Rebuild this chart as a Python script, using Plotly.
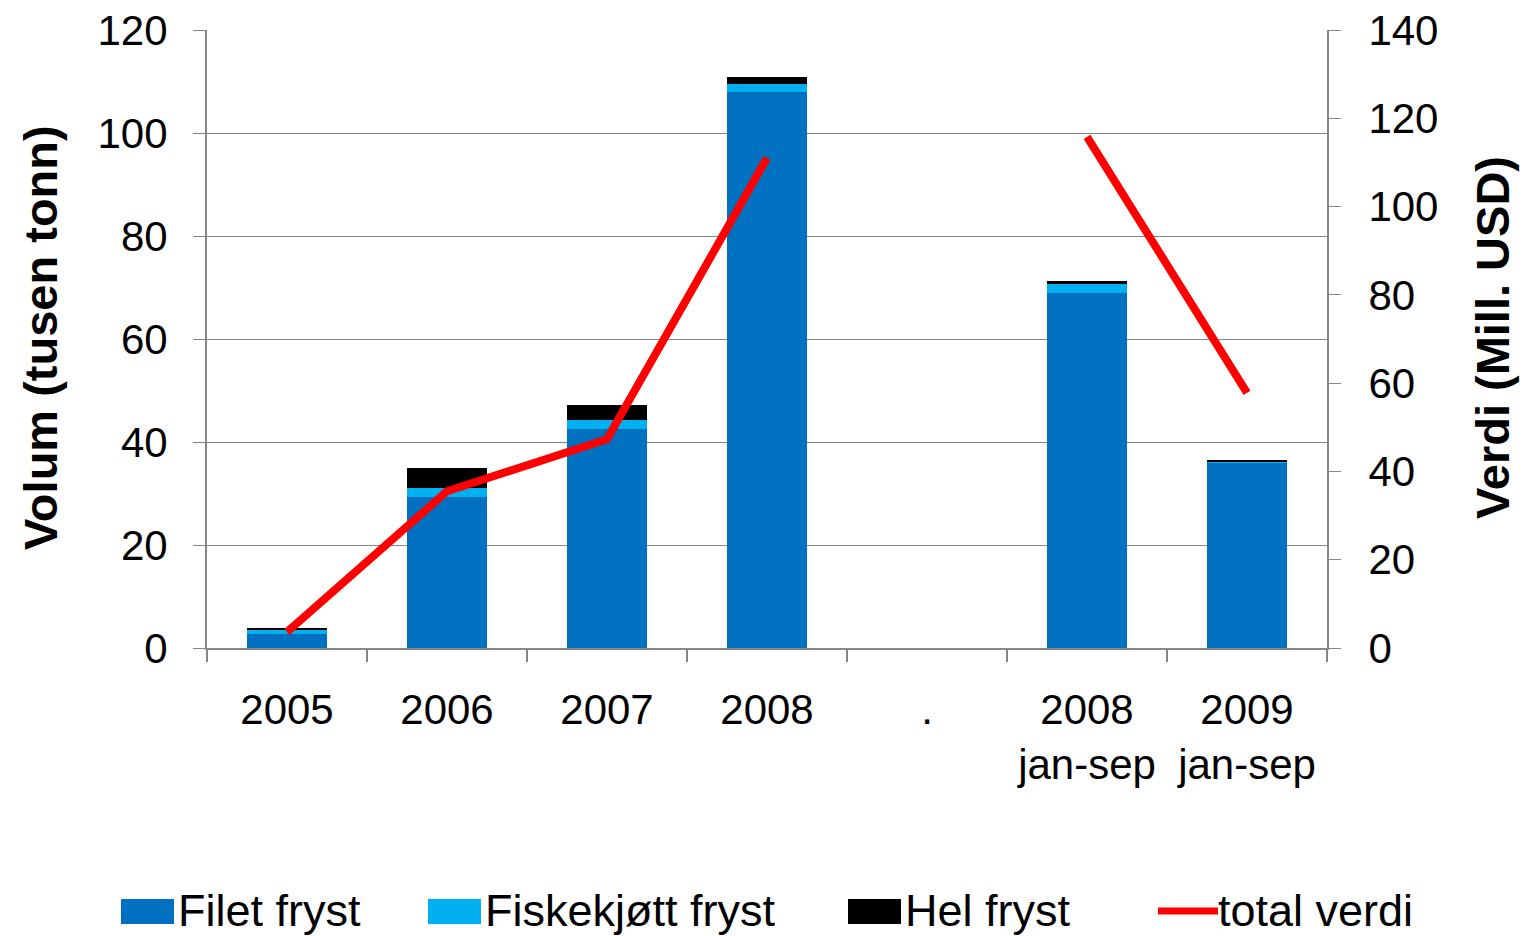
import plotly.graph_objects as go

categories = ["2005", "2006", "2007", "2008", ".", "2008<br>jan-sep", "2009<br>jan-sep"]
filet_fryst = [2.7, 29.3, 42.5, 108.0, None, 69.0, 36.1]
fiskekjott_fryst = [0.8, 1.7, 1.8, 1.6, None, 1.6, 0.2]
hel_fryst = [0.4, 3.9, 2.9, 1.2, None, 0.6, 0.2]
total_verdi = [3.6, 35.5, 47.3, 111.0, None, 115.8, 57.8]

series_names = ["Filet fryst", "Fiskekjøtt fryst", "Hel fryst", "total verdi"]
series_colors = ["#0070C0", "#00B0F0", "#000000", "#FF0000"]
axis_titles = ["Volum (tusen tonn)", "Verdi (Mill. USD)"]

FONT = "Liberation Sans, Arial, sans-serif"
AXIS = "#868686"

fig = go.Figure()
for vals, name, col in zip([filet_fryst, fiskekjott_fryst, hel_fryst], series_names[:3], series_colors[:3]):
    fig.add_trace(go.Bar(x=categories, y=vals, name=name, marker=dict(color=col, line=dict(width=0)),
                         showlegend=False, yaxis="y"))
fig.add_trace(go.Scatter(x=categories, y=total_verdi, name=series_names[3], mode="lines",
                         line=dict(color=series_colors[3], width=8), connectgaps=False,
                         showlegend=False, yaxis="y2"))

fig.update_layout(
    barmode="stack", bargap=0.5,
    width=1527, height=936,
    margin=dict(l=207, r=200, t=30, b=288, autoexpand=False),
    paper_bgcolor="white", plot_bgcolor="white",
    font=dict(family=FONT, size=42, color="black"),
    xaxis=dict(type="category", tickson="boundaries", ticks="outside", ticklen=12, tickcolor=AXIS,
               tickwidth=2, showline=True, linecolor=AXIS, linewidth=2, showgrid=False,
               tickfont=dict(size=42), ticklabelstandoff=24),
    yaxis=dict(range=[0, 120], dtick=20, ticks="outside", ticklen=12, tickcolor=AXIS, tickwidth=1,
               showline=True, linecolor=AXIS, linewidth=2, showgrid=True, gridcolor=AXIS, gridwidth=1,
               zeroline=False, tickfont=dict(size=42), ticklabelstandoff=17, ticklabeloverflow="allow"),
    yaxis2=dict(range=[0, 140], dtick=20, overlaying="y", side="right", ticks="outside", ticklen=12,
                tickcolor=AXIS, tickwidth=1, showline=True, linecolor=AXIS, linewidth=2, showgrid=False,
                zeroline=False, tickfont=dict(size=42), ticklabelstandoff=19, ticklabeloverflow="allow"),
)

# positions in screen pixels -> paper coords
def px_x(p):
    return (p - 207) / 1120
def px_y(p):
    return (648 - p) / 618

# axis titles
fig.add_annotation(xref="paper", yref="paper", x=px_x(40), y=px_y(338), text="<b>%s</b>" % axis_titles[0],
                   textangle=-90, showarrow=False, xanchor="center", yanchor="middle", font=dict(size=47))
fig.add_annotation(xref="paper", yref="paper", x=px_x(1492), y=px_y(338), text="<b>%s</b>" % axis_titles[1],
                   textangle=-90, showarrow=False, xanchor="center", yanchor="middle", font=dict(size=47))

# Manual legend (large swatches like the original)
LEG_FONT = 45
swatches = [(121, 174), (428, 481), (848, 901)]
for (x0, x1), col, name in zip(swatches, series_colors[:3], series_names[:3]):
    fig.add_shape(type="rect", xref="paper", yref="paper", x0=px_x(x0), x1=px_x(x1),
                  y0=px_y(924), y1=px_y(899), fillcolor=col, line=dict(width=0))
    fig.add_annotation(xref="paper", yref="paper", x=px_x(x1 + 2), y=px_y(910), text=name,
                       showarrow=False, xanchor="left", yanchor="middle", font=dict(size=LEG_FONT))
fig.add_shape(type="line", xref="paper", yref="paper", x0=px_x(1158), x1=px_x(1218),
              y0=px_y(911), y1=px_y(911), line=dict(color=series_colors[3], width=7))
fig.add_annotation(xref="paper", yref="paper", x=px_x(1216), y=px_y(910), text=series_names[3],
                   showarrow=False, xanchor="left", yanchor="middle", font=dict(size=LEG_FONT))

fig.write_html("out.html", config={"displayModeBar": False},
               post_script="document.body.style.margin='0';document.body.style.overflow='hidden';")
